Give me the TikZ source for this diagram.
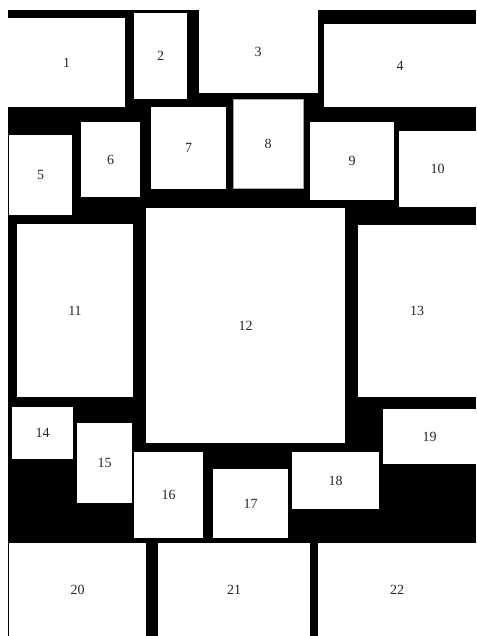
\documentclass[tikz,border=0pt]{standalone}
\usepackage{fontspec}
\setmainfont{Liberation Serif}
\begin{document}
\begin{tikzpicture}[x=1pt,y=-1pt,
  panel/.style={fill=white,draw=none,inner sep=0pt,outer sep=0pt,font=\fontsize{14}{14}\selectfont,text=black!85},
  framed/.style={panel,draw=black!35,line width=0.6pt}]
\useasboundingbox (0,0) rectangle (476,636);
\fill[white] (0,0) rectangle (476,636);
\fill[black] (8,10) rectangle (476,636);
\node[panel,minimum width=117pt,minimum height=89pt] (p1) at (66.5,62.5) {1};
\node[panel,minimum width=53pt,minimum height=86pt] (p2) at (160.5,56) {2};
\node[panel,minimum width=119pt,minimum height=93pt] (p3) at (258.5,46.5) {};
\node at (258,52) [font=\fontsize{14}{14}\selectfont,text=black!85] (l3) {3};
\node[panel,minimum width=152pt,minimum height=83pt] (p4) at (400,65.5) {4};
\node[panel,minimum width=63pt,minimum height=80pt] (p5) at (40.5,175) {5};
\node[panel,minimum width=59pt,minimum height=75pt] (p6) at (110.5,159.5) {6};
\node[panel,minimum width=75pt,minimum height=82pt] (p7) at (188.5,148) {7};
\node[framed,minimum width=70pt,minimum height=89pt] (p8) at (268,143.5) {8};
\node[panel,minimum width=84pt,minimum height=78pt] (p9) at (352,161) {9};
\node[panel,minimum width=77pt,minimum height=76pt] (p10) at (437.5,169) {10};
\node[panel,minimum width=116pt,minimum height=173pt] (p11) at (75,310.5) {11};
\node[panel,minimum width=199pt,minimum height=235pt] (p12) at (245.5,325.5) {12};
\node[panel,minimum width=118pt,minimum height=172pt] (p13) at (417,311) {13};
\node[panel,minimum width=61pt,minimum height=52pt] (p14) at (42.5,433) {14};
\node[panel,minimum width=55pt,minimum height=80pt] (p15) at (104.5,463) {15};
\node[panel,minimum width=69pt,minimum height=86pt] (p16) at (168.5,495) {16};
\node[panel,minimum width=75pt,minimum height=69pt] (p17) at (250.5,503.5) {17};
\node[panel,minimum width=87pt,minimum height=57pt] (p18) at (335.5,480.5) {18};
\node[panel,minimum width=93pt,minimum height=55pt] (p19) at (429.5,436.5) {19};
\node[panel,minimum width=137pt,minimum height=93pt] (p20) at (77.5,589.5) {20};
\node[panel,minimum width=152pt,minimum height=93pt] (p21) at (234,589.5) {21};
\node[panel,minimum width=158pt,minimum height=93pt] (p22) at (397,589.5) {22};
\end{tikzpicture}
\end{document}
